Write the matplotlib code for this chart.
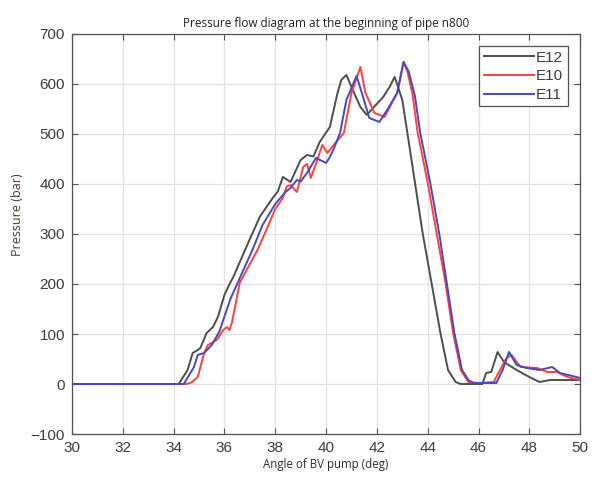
import matplotlib
matplotlib.use("Agg")
import matplotlib.pyplot as plt

# --- data ------------------------------------------------------------------
e12_x = [30, 34.2, 34.55, 34.75, 34.95, 35.05, 35.3, 35.55, 35.75, 36.0, 36.2,
         36.35, 36.7, 37.0, 37.4, 37.9, 38.1, 38.3, 38.6, 39.0, 39.25, 39.5,
         39.75, 40.15, 40.45, 40.6, 40.8, 41.05, 41.35, 41.6, 41.85, 42.25,
         42.5, 42.7, 43.0, 43.2, 43.5, 43.8, 44.15, 44.5, 44.8, 45.1, 45.3,
         46.15, 46.3, 46.5, 46.75, 47.0, 47.5, 48.0, 48.4, 48.8, 50]
e12_y = [0, 0, 28, 62, 68, 72, 102, 114, 135, 178, 200,
         214, 255, 290, 335, 372, 385, 414, 404, 448, 458, 455,
         484, 514, 582, 608, 618, 588, 554, 538, 552, 574,
         594, 614, 568, 502, 402, 302, 202, 102, 28, 4, 0,
         0, 22, 24, 64, 44, 28, 14, 4, 8, 8]

e10_x = [30, 34.5, 34.7, 34.95, 35.2, 35.35, 35.7, 35.95, 36.1, 36.2, 36.3,
         36.6, 37.0, 37.3, 37.7, 38.0, 38.3, 38.45, 38.6, 38.85, 39.1, 39.25,
         39.4, 39.6, 39.85, 40.05, 40.3, 40.7, 41.0, 41.35, 41.55, 41.9, 42.3,
         42.8, 43.05, 43.2, 43.4, 43.6, 44.0, 44.35, 44.7, 45.0, 45.3, 45.6,
         46.0, 46.6, 46.7, 47.1, 47.3, 47.65, 48.3, 48.7, 49.1, 49.5, 50]
e10_y = [0, 0, 3, 14, 62, 78, 88, 108, 114, 108, 124,
         202, 240, 268, 314, 350, 372, 395, 398, 384, 434, 440,
         412, 440, 478, 462, 478, 502, 582, 634, 582, 542, 534,
         582, 644, 625, 580, 504, 402, 302, 202, 102, 28, 4,
         2, 4, 14, 52, 58, 34, 32, 24, 24, 14, 8]

e11_x = [30, 34.4, 34.8, 34.95, 35.2, 35.5, 35.8, 36.0, 36.25, 36.5, 37.1,
         37.5, 38.0, 38.4, 38.6, 38.85, 39.0, 39.25, 39.6, 40.0, 40.15, 40.3,
         40.55, 40.8, 41.2, 41.45, 41.7, 42.1, 42.45, 42.8, 43.05, 43.25, 43.5,
         43.7, 44.1, 44.45, 44.75, 45.05, 45.35, 45.6, 45.8, 46.7, 46.95, 47.2,
         47.5, 47.9, 48.4, 48.9, 49.2, 49.7, 50]
e11_y = [0, 0, 34, 58, 62, 78, 105, 135, 172, 200, 268,
         318, 360, 384, 392, 408, 405, 422, 452, 442, 454, 470,
         502, 568, 616, 575, 532, 524, 552, 582, 644, 625, 575,
         504, 402, 302, 202, 102, 28, 8, 2, 2, 28, 64,
         38, 32, 28, 34, 22, 16, 12]

series = [("E12", e12_x, e12_y, "#4d4d4d"),
          ("E10", e10_x, e10_y, "#ff4040"),
          ("E11", e11_x, e11_y, "#4848c0")]

x_ticks = list(range(30, 51, 2))
y_ticks = list(range(-100, 701, 100))

# --- figure ----------------------------------------------------------------
plt.rcParams["font.family"] = ["Liberation Sans", "DejaVu Sans"]
TXT = "#3c3c3c"
LBL = ["Open Sans", "DejaVu Sans"]

fig = plt.figure(figsize=(5.92, 4.78), dpi=100)
ax = fig.add_axes([0.1216, 0.092, 0.8584, 0.837])

for name, xs, ys, col in series:
    ax.plot(xs, ys, color=col, lw=1.4, label=name)

ax.set_xlim(30, 50)
ax.set_ylim(-100, 700)
ax.set_xticks(x_ticks)
ax.set_yticks(y_ticks)
ax.grid(True, color="#e2e2e2", lw=0.9)
ax.set_axisbelow(True)
ax.tick_params(direction="in", top=True, right=True, length=4, width=0.8,
               colors="#505050", labelcolor=TXT, labelsize=11, pad=5)
for s in ax.spines.values():
    s.set_color("#505050")
    s.set_linewidth(0.9)

ax.set_title("Pressure flow diagram at the beginning of pipe n800",
             fontsize=8.5, color="#202020", family=LBL, pad=5)
ax.set_xlabel("Angle of BV pump (deg)", fontsize=8.3, color="#302a2a",
              family=LBL, labelpad=2)
ax.set_ylabel("Pressure (bar)", fontsize=9, color="#4a3a35", family=LBL)
ax.yaxis.set_label_coords(-0.094, 0.548)

leg = ax.legend(loc="upper right", fontsize=11, handlelength=3.3,
                handletextpad=0.15, labelspacing=0.3, borderpad=0.3,
                borderaxespad=0.8, fancybox=False, framealpha=1)
leg.get_frame().set_edgecolor("#505050")
leg.get_frame().set_linewidth(0.9)
for t in leg.get_texts():
    t.set_color(TXT)

fig.savefig("out.png", dpi=100)
